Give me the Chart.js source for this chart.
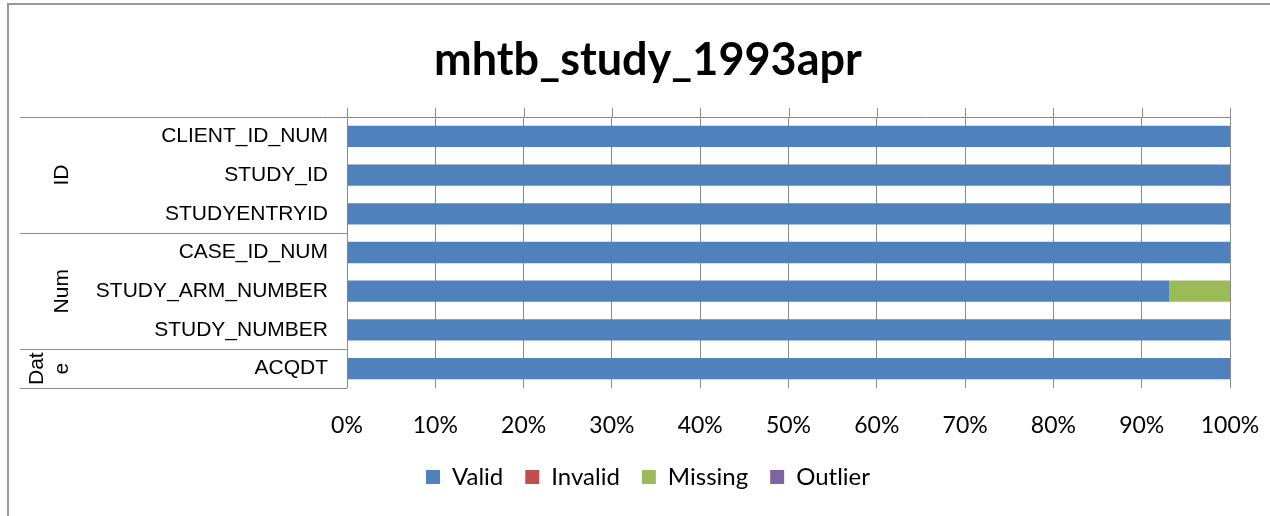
<!DOCTYPE html>
<html>
<head>
<meta charset="utf-8">
<title>mhtb_study_1993apr</title>
<script src="https://cdn.jsdelivr.net/npm/chart.js@4.4.1/dist/chart.umd.min.js"></script>
<style>
    html, body { margin: 0; padding: 0; background: #fff; }
    #wrap { width: 1270px; height: 516px; position: relative; }
</style>
</head>
<body>
<div id="wrap"><canvas id="qualityChart" width="1270" height="516"></canvas></div>
<script>
const categories = ["CLIENT_ID_NUM", "STUDY_ID", "STUDYENTRYID", "CASE_ID_NUM", "STUDY_ARM_NUMBER", "STUDY_NUMBER", "ACQDT"];
const groupLabels = ["ID", "Num", "Date"];
const groupSizes = [3, 3, 1];
const validPct = [100, 100, 100, 100, 93.1, 100, 100];
const invalidPct = [0, 0, 0, 0, 0, 0, 0];
const missingPct = [0, 0, 0, 0, 6.9, 0, 0];
const outlierPct = [0, 0, 0, 0, 0, 0, 0];
const xTicks = [0, 10, 20, 30, 40, 50, 60, 70, 80, 90, 100];

const LINE = "#8a8a8a";
const LABEL_FONT = "21px 'Liberation Sans', Arial, sans-serif";
const PLOT_LEFT = 347;

// frame, top axis line, tick stubs and the group column on the left
const groupColumn = {
    id: "groupColumn",
    beforeDraw(chart) {
        const c = chart.ctx;
        c.save();
        c.fillStyle = "#fff";
        c.fillRect(0, 0, chart.width, chart.height);
        c.strokeStyle = "#999";
        c.lineWidth = 2;
        c.beginPath();
        c.moveTo(8, chart.height);
        c.lineTo(8, 4);
        c.lineTo(chart.width, 4);
        c.stroke();
        c.restore();
    },
    afterDraw(chart) {
        const c = chart.ctx;
        const area = chart.chartArea;
        const x = chart.scales.x;
        const y = chart.scales.y;
        const left = 20;
        const rowH = (area.bottom - area.top) / categories.length;

        c.save();
        c.strokeStyle = LINE;
        c.lineWidth = 1;
        c.beginPath();
        c.moveTo(left, Math.round(area.top) + 0.5);
        c.lineTo(area.right, Math.round(area.top) + 0.5);
        xTicks.forEach(function (t) {
            const px = Math.round(x.getPixelForValue(t)) + 0.5;
            c.moveTo(px, area.top - 9);
            c.lineTo(px, area.top);
        });

        let start = 0;
        c.font = LABEL_FONT;
        c.fillStyle = "#000";
        groupSizes.forEach(function (size, i) {
            const y0 = y.getPixelForValue(start) - rowH / 2;
            const y1 = y.getPixelForValue(start + size - 1) + rowH / 2;
            const yb = Math.round(y1) + 0.5;
            c.moveTo(left, yb);
            c.lineTo(area.left, yb);

            // wrap label to the height of its group, like the spreadsheet does
            const text = groupLabels[i];
            const room = (y1 - y0) - 4;
            const lines = [];
            let cur = "";
            for (const ch of text) {
                if (cur && c.measureText(cur + ch).width > room) {
                    lines.push(cur);
                    cur = ch;
                } else {
                    cur += ch;
                }
            }
            lines.push(cur);

            const baseX = 68;
            const lh = 25;
            lines.forEach(function (ln, k) {
                c.save();
                c.translate(baseX - (lines.length - 1 - k) * lh, (y0 + y1) / 2);
                c.rotate(-Math.PI / 2);
                c.textAlign = "center";
                c.textBaseline = "alphabetic";
                c.fillText(ln, 0, 0);
                c.restore();
            });
            start += size;
        });
        c.stroke();
        c.restore();
    }
};

document.addEventListener("DOMContentLoaded", function () {
    const ctx = document.getElementById("qualityChart").getContext("2d");
    const padLeft = 66;
    new Chart(ctx, {
        type: "bar",
        data: {
            labels: categories,
            datasets: [
                { label: "Valid", data: validPct, backgroundColor: "#4F81BD" },
                { label: "Invalid", data: invalidPct, backgroundColor: "#C0504D" },
                { label: "Missing", data: missingPct, backgroundColor: "#9BBB59" },
                { label: "Outlier", data: outlierPct, backgroundColor: "#8064A2" }
            ]
        },
        options: {
            indexAxis: "y",
            responsive: false,
            animation: false,
            barPercentage: 0.55,
            categoryPercentage: 1,
            layout: { padding: { left: padLeft, right: 40, top: 0, bottom: 17 } },
            scales: {
                x: {
                    stacked: true,
                    min: 0,
                    max: 100,
                    afterFit: function (s) {
                        s.height = 55;
                        s.paddingLeft = 0;
                        s.paddingRight = 0;
                    },
                    afterBuildTicks: function (s) { s.ticks = xTicks.map(v => ({ value: v })); },
                    ticks: {
                        callback: v => v + "%",
                        color: "#000",
                        padding: 24,
                        maxRotation: 0,
                        font: { family: "Lato, 'Open Sans', sans-serif", size: 23 }
                    },
                    grid: { color: LINE, drawTicks: false },
                    border: { display: false }
                },
                y: {
                    stacked: true,
                    afterFit: function (s) { s.width = PLOT_LEFT - padLeft; },
                    ticks: {
                        color: "#000",
                        padding: 19,
                        font: { family: "'Liberation Sans', Arial, sans-serif", size: 21 }
                    },
                    grid: { display: false, drawTicks: false },
                    border: { display: false }
                }
            },
            plugins: {
                title: {
                    display: true,
                    text: "mhtb_study_1993apr",
                    color: "#000",
                    font: { family: "Lato, 'Open Sans', sans-serif", size: 45, weight: "bold" },
                    padding: { top: 33, bottom: 30 }
                },
                legend: {
                    position: "bottom",
                    labels: {
                        boxWidth: 14,
                        boxHeight: 14,
                        padding: 22,
                        color: "#000",
                        font: { family: "Lato, 'Open Sans', sans-serif", size: 24 }
                    }
                },
                tooltip: { enabled: false }
            }
        },
        plugins: [groupColumn]
    });
});
</script>
</body>
</html>
